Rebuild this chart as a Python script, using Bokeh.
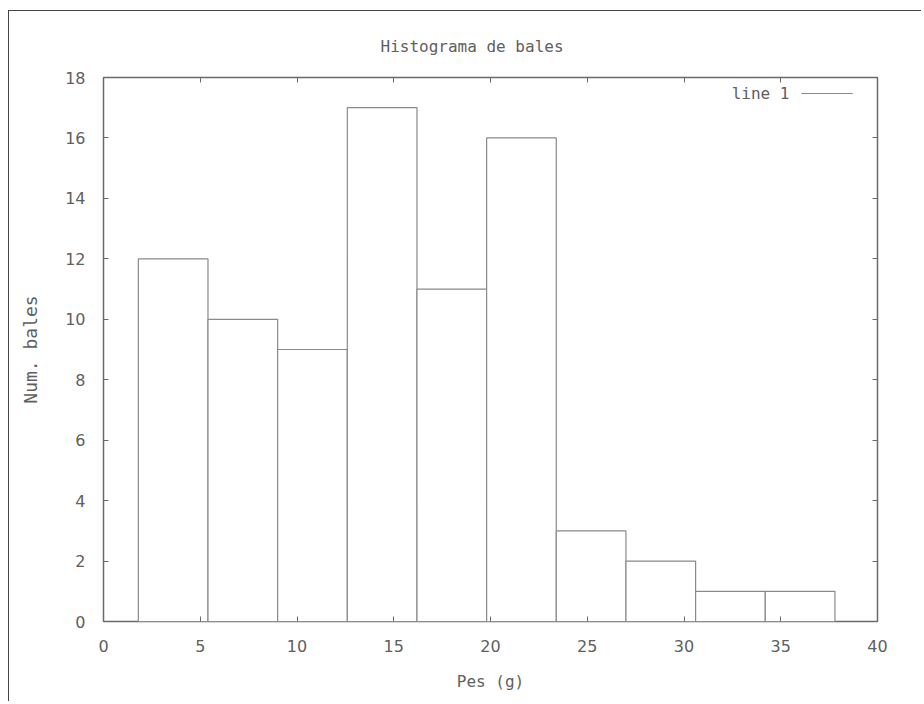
from bokeh.plotting import figure
from bokeh.models import (Range1d, LinearAxis, FixedTicker, Legend, LegendItem, Label)
from bokeh.embed import file_html
from bokeh.resources import INLINE

# data
bin_left = [1.8, 5.4, 9.0, 12.6, 16.2, 19.8, 23.4, 27.0, 30.6, 34.2]
bin_right = [5.4, 9.0, 12.6, 16.2, 19.8, 23.4, 27.0, 30.6, 34.2, 37.8]
counts = [12, 10, 9, 17, 11, 16, 3, 2, 1, 1]
x_ticks = [0, 5, 10, 15, 20, 25, 30, 35, 40]
y_ticks = [0, 2, 4, 6, 8, 10, 12, 14, 16, 18]

TXT = "#606060"
LINE = "#6a6a6a"
MONO = "DejaVu Sans Mono"
SANS = "DejaVu Sans"

p = figure(frame_width=774, frame_height=544,
           min_border_left=94, min_border_right=44,
           min_border_top=66, min_border_bottom=80,
           x_range=Range1d(0, 40), y_range=Range1d(0, 18),
           output_backend="svg", toolbar_location=None,
           title="Histograma de bales")
p.styles = {"border-top": "1px solid #444", "border-left": "1px solid #444",
            "margin-left": "8px", "margin-top": "10px"}

p.title.align = "left"
p.title.offset = 277
p.title.text_font = MONO
p.title.text_font_style = "normal"
p.title.text_font_size = "16px"
p.title.text_color = TXT
p.title.standoff = 44

p.grid.visible = False
p.outline_line_color = LINE
p.outline_line_width = 1.5
p.outline_line_alpha = 1

bars = p.quad(left=bin_left, right=bin_right, bottom=0, top=counts,
              fill_color="white", line_color="#8a8a8a", line_width=1.2)

def style_axis(ax, labels=True):
    ax.axis_line_color = None
    ax.major_tick_in = 5
    ax.major_tick_out = 0
    ax.minor_tick_line_color = None
    ax.major_tick_line_color = LINE
    ax.major_tick_line_width = 1
    if labels:
        ax.major_label_text_font = SANS
        ax.major_label_text_font_size = "16px"
        ax.major_label_text_color = TXT
    else:
        ax.major_label_text_color = None
        ax.major_label_text_font_size = "10px"
        ax.major_label_standoff = 0

p.xaxis.ticker = FixedTicker(ticks=x_ticks)
p.yaxis.ticker = FixedTicker(ticks=y_ticks)
style_axis(p.xaxis[0])
style_axis(p.yaxis[0])
p.xaxis.major_label_standoff = 18
p.yaxis.major_label_standoff = 18
p.xaxis.axis_label = "Pes (g)"
p.yaxis.axis_label = "Num. bales"
for ax in (p.xaxis[0], p.yaxis[0]):
    ax.axis_label_text_font = MONO
    ax.axis_label_text_font_style = "normal"
    ax.axis_label_text_font_size = "16px"
    ax.axis_label_text_color = TXT
p.yaxis.axis_label_text_font_size = "18px"
p.xaxis.axis_label_standoff = 17
p.yaxis.axis_label_standoff = 21

ax_r = LinearAxis(ticker=FixedTicker(ticks=y_ticks))
style_axis(ax_r, labels=False)
p.add_layout(ax_r, "right")
ax_t = LinearAxis(ticker=FixedTicker(ticks=x_ticks))
style_axis(ax_t, labels=False)
p.add_layout(ax_t, "above")

# legend (gnuplot style: text then sample line)
leg = Legend(items=[LegendItem(label=" ", renderers=[bars])],
             location=(692, 520), border_line_color=None,
             background_fill_alpha=0, padding=0, margin=0, spacing=0,
             glyph_width=63, glyph_height=1, label_standoff=0,
             label_width=0, label_height=16, label_text_font_size="13px")
p.add_layout(leg, "center")
p.add_layout(Label(x=35.45, y=17.47, text="line 1", text_align="right",
                   text_baseline="middle", text_font=MONO,
                   text_font_size="16px", text_color=TXT))

open("out.html", "w").write(file_html(p, INLINE))
